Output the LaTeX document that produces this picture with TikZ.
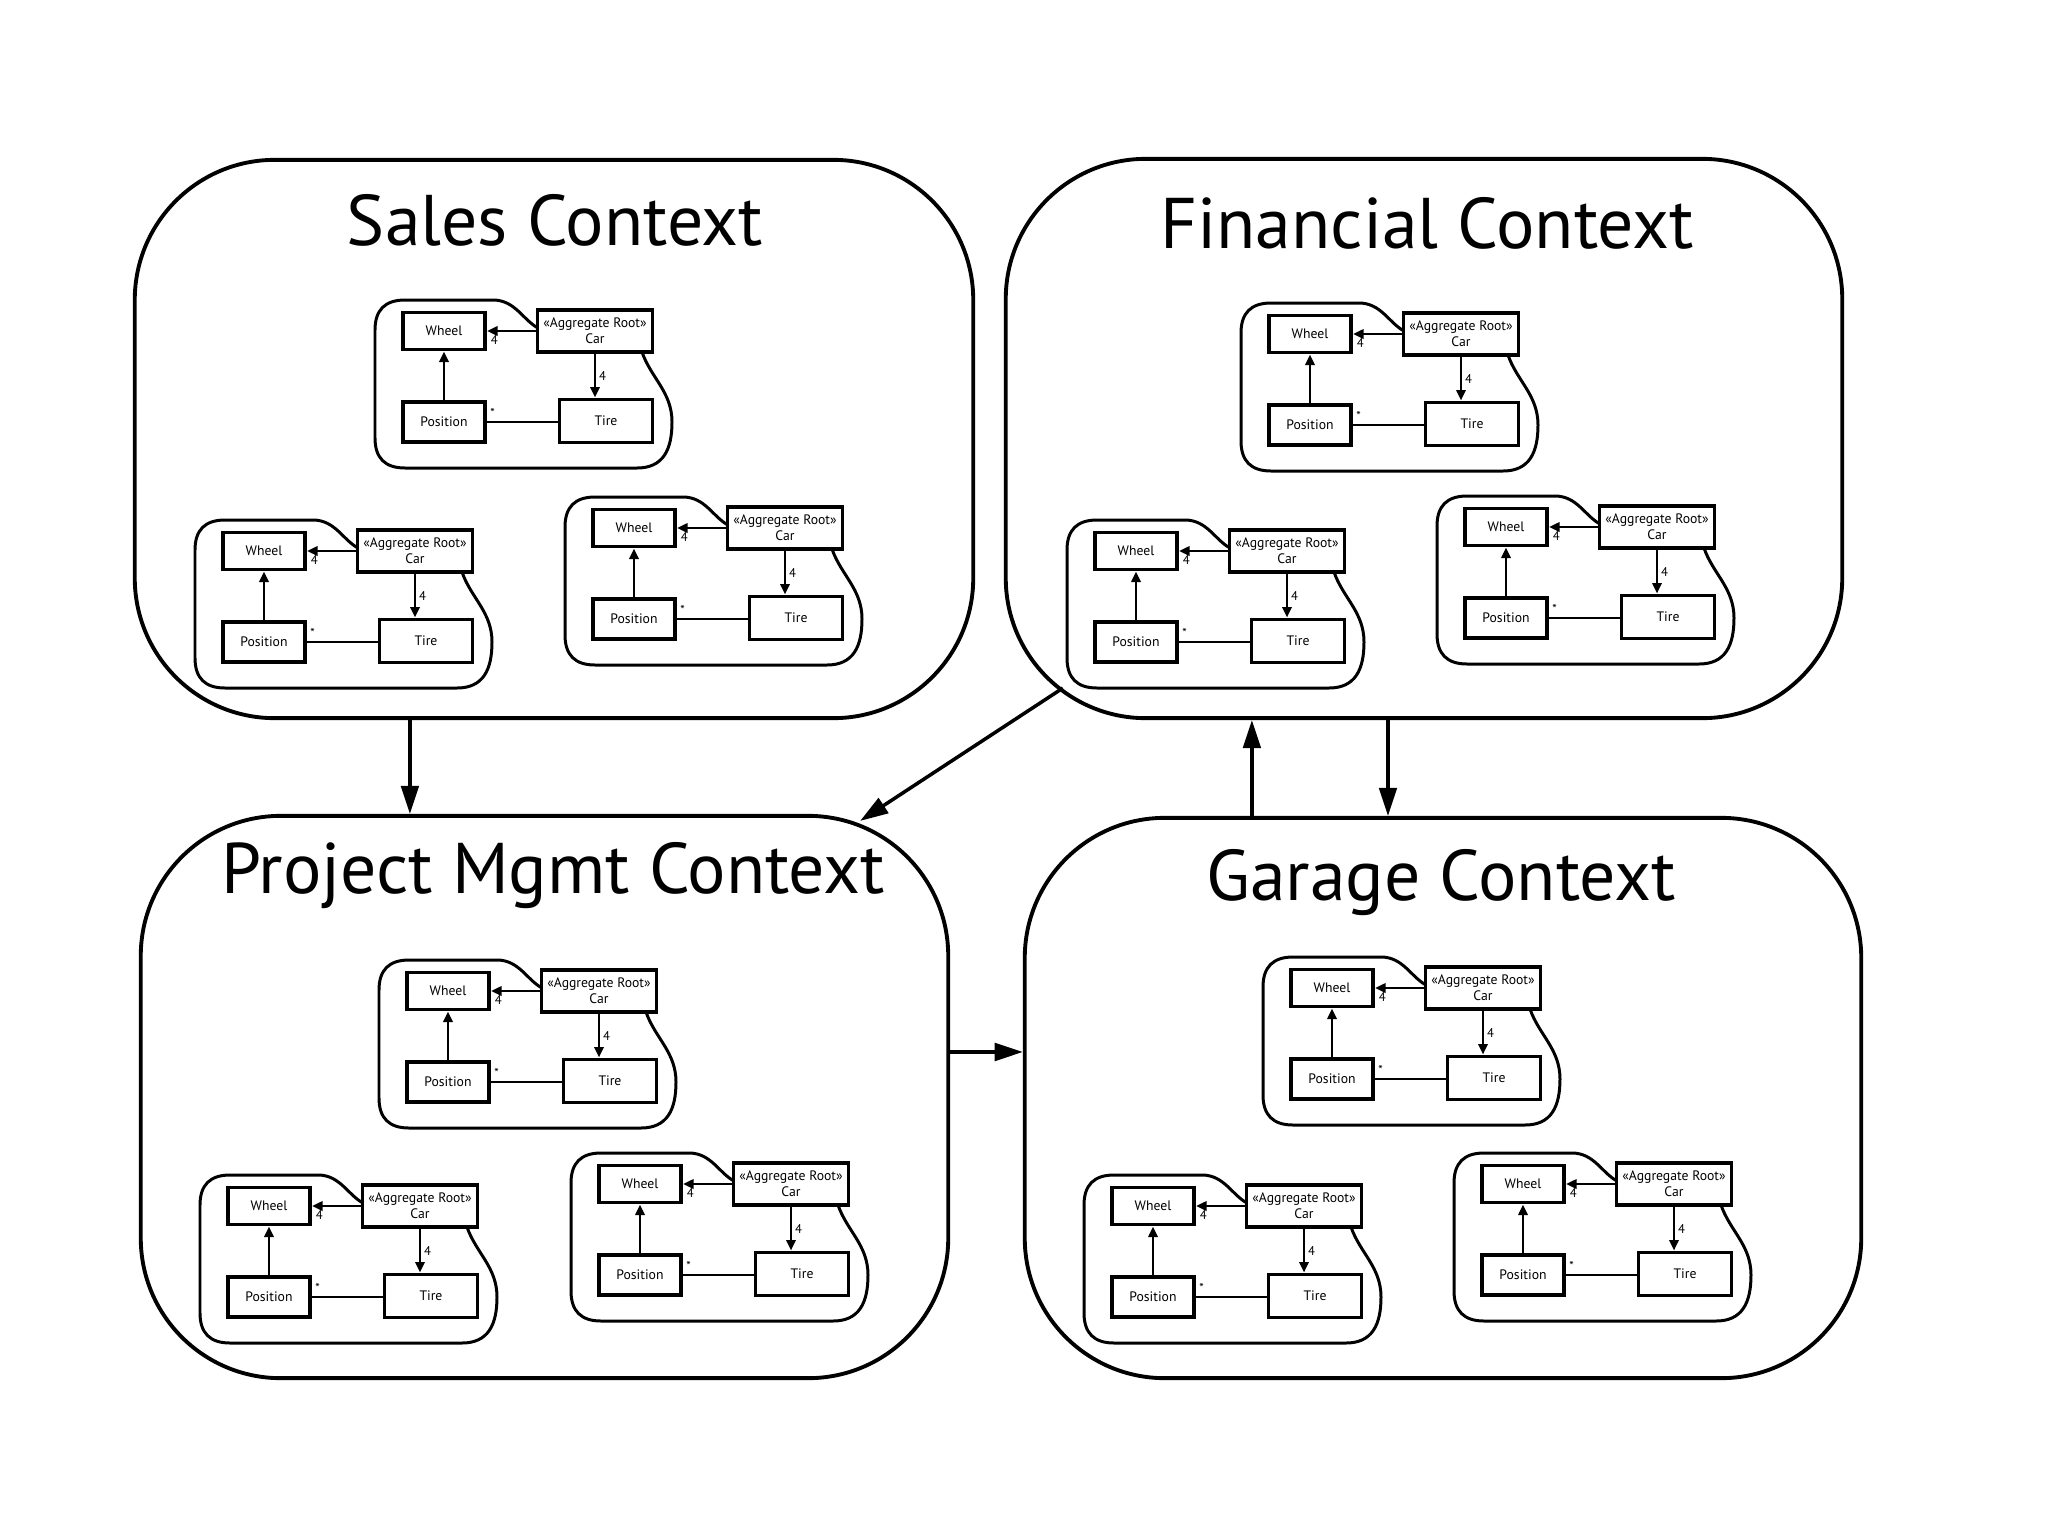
\documentclass[tikz,border=0pt]{standalone}
\usepackage{fontspec}
\setmainfont{PT Sans}
\usetikzlibrary{arrows.meta, positioning}

% one Car aggregate, #1 = name, (#2,#3) = top left of its outline
\newcommand{\aggregate}[3]{%
  \begin{scope}[shift={(#2,#3)}]
    \draw[blob] (163,28) .. controls (148,20) and (140,0) .. (118,0) -- (30,0)
      .. controls (10,0) and (0,10) .. (0,30) -- (0,138)
      .. controls (0,158) and (10,168) .. (30,168) -- (262,168)
      .. controls (288,168) and (297,150) .. (297,122)
      .. controls (297,92) and (276,78) .. (267,52);
    \node[umlbox, minimum width=0.82cm, minimum height=0.37cm] (#1-wheel) at (69,31) {Wheel};
    \node[umlbox, minimum width=1.15cm, minimum height=0.42cm] (#1-car) at (220,31) {«Aggregate Root»\\Car};
    \node[umlbox, minimum width=0.82cm, minimum height=0.40cm] (#1-pos) at (69,122) {Position};
    \node[umlbox, minimum width=0.93cm, minimum height=0.43cm] (#1-tire) at (231,121) {Tire};
    \draw[umlarrow] (#1-car) -- (#1-wheel) node[mult, pos=0.85, below] {4};
    \draw[umlarrow] (#1-car.south) -- (#1-car.south |- #1-tire.north) node[mult, midway, right] {4};
    \draw[umlarrow] (#1-pos) -- (#1-wheel);
    \draw[umlline] (#1-pos.east) -- (#1-pos.east -| #1-tire.west) node[mult, pos=0.08, above] {*};
  \end{scope}}

\begin{document}
\begin{tikzpicture}[
    x=0.01cm, y=-0.01cm,
    ctxbox/.style={draw, line width=1.1pt, rounded corners=1.4cm, inner sep=0pt},
    ctxtitle/.style={anchor=base, font=\fontsize{20.4}{23}\selectfont},
    ctxarrow/.style={-{Triangle[length=8pt, width=5pt]}, line width=1pt},
    blob/.style={line width=0.85pt},
    umlbox/.style={draw, line width=1.1pt, inner sep=0pt, align=center, font=\fontsize{3.9}{4.5}\selectfont},
    umlarrow/.style={-{Triangle[length=3pt, width=2.6pt]}, line width=0.8pt},
    umlline/.style={line width=0.8pt},
    mult/.style={inner sep=0.8pt, font=\fontsize{3.6}{4}\selectfont},
]
    \useasboundingbox (0,0) rectangle (2048,1536);

    % bounded contexts
    \node[ctxbox, minimum width=8.38cm, minimum height=5.58cm] (sales) at (554,439) {};
    \node[ctxbox, minimum width=8.36cm, minimum height=5.59cm] (fin) at (1424,438.5) {};
    \node[ctxbox, minimum width=8.07cm, minimum height=5.62cm] (proj) at (544.5,1097) {};
    \node[ctxbox, minimum width=8.36cm, minimum height=5.60cm] (garage) at (1443,1098) {};

    \node[ctxtitle] (sales-title) at (555,245) {Sales Context};
    \node[ctxtitle] (fin-title) at (1427,248) {Financial Context};
    \node[ctxtitle] (proj-title) at (553,893) {Project Mgmt Context};
    \node[ctxtitle] (garage-title) at (1441,900) {Garage Context};

    % the same aggregate in every context
    \foreach \n/\px/\py in {sa/375/300, sb/195/520, sc/565/497,
                            fa/1241/303, fb/1067/520, fc/1437/496,
                            pa/379/960, pb/200/1175, pc/571/1153,
                            ga/1263/957, gb/1084/1175, gc/1454/1153}
        {\aggregate{\n}{\px}{\py}}

    % context map
    \draw[ctxarrow] ([xshift=-1.44cm]sales.south) -- ([xshift=-1.44cm]sales.south |- proj.north);
    \draw[ctxarrow] ([shift={(0.59cm,0.32cm)}]fin.south west) -- ([shift={(-0.9cm,-0.07cm)}]proj.north east);
    \draw[ctxarrow] ([yshift=0.45cm]proj.east) -- ([yshift=0.45cm]proj.east -| garage.west);
    \draw[ctxarrow] ([xshift=-1.91cm]garage.north) -- ([xshift=-1.91cm]garage.north |- fin.south);
    \draw[ctxarrow] ([xshift=-0.36cm]fin.south) -- ([xshift=-0.36cm]fin.south |- garage.north);
\end{tikzpicture}
\end{document}
